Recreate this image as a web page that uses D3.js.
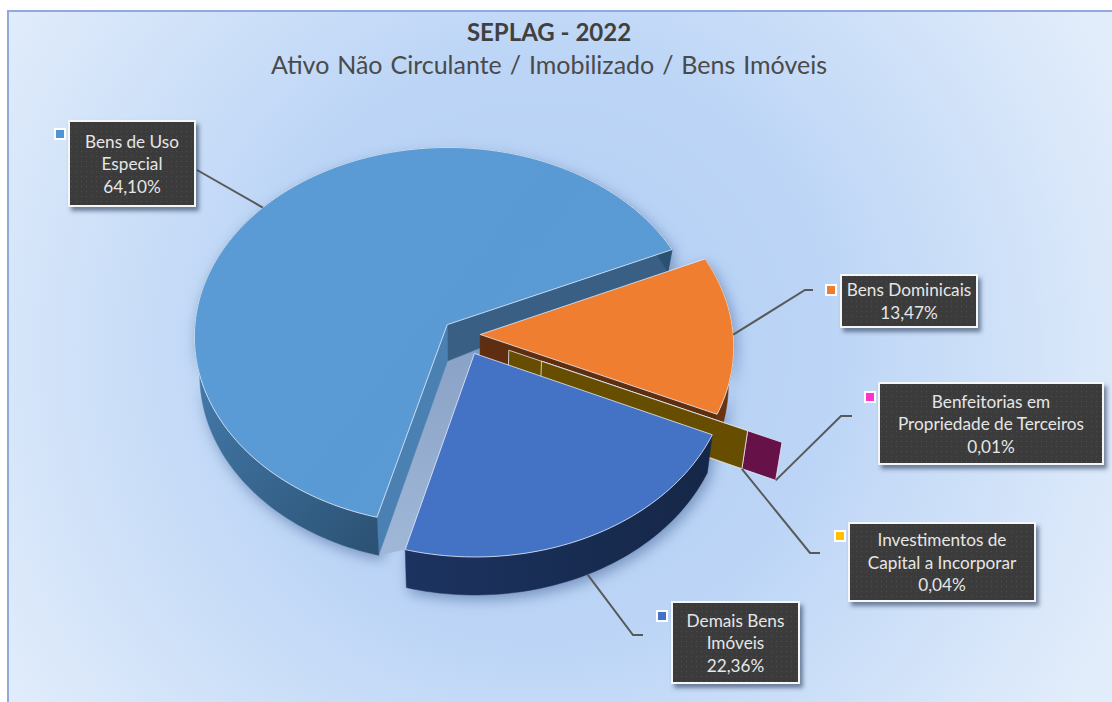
<!DOCTYPE html>
<html><head><meta charset="utf-8">
<script src="https://cdn.jsdelivr.net/npm/d3@7"></script>
<style>html,body{margin:0;padding:0;background:#fff}svg{display:block}text{font-family:Lato,"Open Sans",sans-serif}</style>
</head><body><svg id="c" width="1112" height="702"></svg>
<script>
const categories=["Bens de Uso Especial","Bens Dominicais","Benfeitorias em Propriedade de Terceiros","Investimentos de Capital a Incorporar","Demais Bens Imóveis"];
const values=[64.10,13.47,0.01,0.04,22.36];
const valueLabels=["64,10%","13,47%","0,01%","0,04%","22,36%"];
const labelLines=[["Bens de Uso","Especial"],["Bens Dominicais"],["Benfeitorias em","Propriedade de Terceiros"],["Investimentos de","Capital a Incorporar"],["Demais Bens","Imóveis"]];
const topColors=["#5b9bd5","#f07e30","#ff33cc","#ffc000","#4472c4"];
const keyColors=["#4f94d4","#ed7d31","#ff33cc","#ffc000","#4472c4"];
const wallColors=["#3a6f9f","#6a3410","#661249","#664d00","#172a4f"];
const explode=[.08,.07,.34,.2,.11];
const boxes=[[68,120,196,207],[840,274,978,328],[878,382,1104,465],[848,522,1036,602],[671,601,800,684]];
const keys=[[60,134],[831,290],[870,397],[840,536],[662,616]];
const elbows=[[[197,170]],[[805,290],[813,290]],[[841,416],[852,416]],[[810,553],[820,553]],[[633,635],[643,635]]];

const svg=d3.select("#c"),defs=svg.append("defs");
const W=1112,H=702;
const bg=defs.append("radialGradient").attr("id","bg").attr("gradientUnits","userSpaceOnUse")
 .attr("cx",540).attr("cy",350).attr("r",640);
[[0,"#b2cef5"],[.45,"#bcd5f6"],[1,"#e2edfb"]].forEach(s=>bg.append("stop").attr("offset",s[0]).attr("stop-color",s[1]));
const blur=defs.append("filter").attr("id","blur").attr("x","-20%").attr("y","-20%").attr("width","140%").attr("height","140%");
blur.append("feGaussianBlur").attr("stdDeviation",7);
const bs=defs.append("filter").attr("id","bs").attr("x","-10%").attr("y","-10%").attr("width","130%").attr("height","130%");
bs.append("feDropShadow").attr("dx",3).attr("dy",4).attr("stdDeviation",2).attr("flood-color","#2a3c5c").attr("flood-opacity",.6);
const pat=defs.append("pattern").attr("id","dots").attr("width",5).attr("height",5).attr("patternUnits","userSpaceOnUse");
pat.append("rect").attr("width",5).attr("height",5).attr("fill","#3a3a3a");
pat.append("rect").attr("x",1).attr("y",1).attr("width",1.2).attr("height",1.2).attr("fill","#4e4e4e");
function grad(id,x1,x2,a,b,y1=0,y2=0){const g=defs.append("linearGradient").attr("id",id).attr("gradientUnits","userSpaceOnUse")
 .attr("x1",x1).attr("x2",x2).attr("y1",y1).attr("y2",y2);
 g.append("stop").attr("offset",0).attr("stop-color",a);g.append("stop").attr("offset",1).attr("stop-color",b);}
grad("rim0",195,380,"#4379aa","#2b5172",380,555);
grad("rim4",405,720,"#1c3360","#152747");
grad("top0",190,670,"#5a9ad6","#5b9bd3",150,520);
grad("gap",0,0,"#8aa3c6","#a0b7d8",360,555);

svg.append("rect").attr("x",8).attr("y",11).attr("width",W+10).attr("height",H+10).attr("fill","url(#bg)").attr("stroke","#8fabdd").attr("stroke-width",2);

const cx=462.5,cy=334.5,Rx=253,Ry=189,k=.06,D=38;
const sx=d3.scaleLinear().domain([0,1]).range([0,Rx]),sy=d3.scaleLinear().domain([0,1]).range([0,Ry]);
const arcs=d3.pie().sort(null).value(d=>d).startAngle(195*Math.PI/180).endAngle((195+360)*Math.PI/180)(values);
function plane(i,r,t){const a=arcs[i],m=(a.startAngle+a.endAngle)/2,e=explode[i];
 return [e*Math.sin(m)+r*Math.sin(t),-e*Math.cos(m)-r*Math.cos(t)];}
function topP(i,r,t){const [X,Y]=plane(i,r,t),s=1/(1-k*Y);return [cx+sx(X)*s,cy+sy(Y)*s];}
function botP(i,r,t){const [X,Y]=plane(i,r,t),p=topP(i,r,t);
 return [p[0]-(p[0]-cx)*.02,p[1]+D*Math.min(1,1+.87*Y)];}
const line=d3.line();
function arcTs(a){const n=Math.max(2,Math.ceil((a.endAngle-a.startAngle)*40));return d3.range(n+1).map(j=>a.startAngle+(a.endAngle-a.startAngle)*j/n);}
function topPath(i){const a=arcs[i];return line([topP(i,0,a.startAngle),...arcTs(a).map(t=>topP(i,1,t))])+"Z";}
function rimPath(i){const ts=arcTs(arcs[i]);return line([...ts.map(t=>topP(i,1,t)),...ts.slice().reverse().map(t=>botP(i,1,t))])+"Z";}
function edgePath(i,t,r0=0,r1=1){return line([topP(i,r0,t),topP(i,r1,t),botP(i,r1,t),botP(i,r0,t)])+"Z";}

// soft shadow
const sh=svg.append("g").attr("filter","url(#blur)").attr("opacity",.55).attr("transform","translate(3,5)");
[0,1,4].forEach(i=>{const a=arcs[i];
 sh.append("path").attr("d",rimPath(i)).attr("fill","#3f5f92");
 sh.append("path").attr("d",edgePath(i,a.startAngle)).attr("fill","#3f5f92");
 sh.append("path").attr("d",edgePath(i,a.endAngle)).attr("fill","#3f5f92");
});
// shaded gap between the large slice and the lower slice
const t0=arcs[0].startAngle;
svg.append("path").attr("d",line([botP(0,0,t0),topP(4,0,t0),topP(4,1,t0),botP(0,1,t0)])+"Z").attr("fill","url(#gap)");
const edge="#e4ecf7";
function wall(g,d,fill,st){g.append("path").attr("d",d).attr("fill",fill).attr("stroke",st?edge:fill).attr("stroke-width",st?.8:.5).attr("stroke-linejoin","round");}
function face(g,i){g.append("path").attr("d",topPath(i)).attr("fill",i==0?"url(#top0)":topColors[i]).attr("stroke",edge).attr("stroke-width",.8).attr("stroke-linejoin","round");}
const pie=svg.append("g");
// Bens de Uso Especial
wall(pie,edgePath(0,arcs[0].endAngle),"#3a5f85");
wall(pie,edgePath(0,arcs[0].startAngle),"#4a80b2");
wall(pie,rimPath(0),"url(#rim0)");
face(pie,0);
// Bens Dominicais
wall(pie,rimPath(1),wallColors[1]);
wall(pie,edgePath(1,arcs[1].endAngle),"#5f2d10");
face(pie,1);
// tiny slices: pink outer wall, gold wall, split where the pink centre falls
const tp=arcs[2].startAngle,tg=arcs[3].startAngle;
wall(pie,edgePath(2,tp),wallColors[2],true);
wall(pie,edgePath(3,tg),wallColors[3],true);
wall(pie,edgePath(2,tp,0,1-(explode[2]-explode[3])),wallColors[3],true);
// Demais Bens Imóveis
wall(pie,rimPath(4),"url(#rim4)");
face(pie,4);

// leaders
const anchors=[topP(0,1,(arcs[0].startAngle+arcs[0].endAngle)/2),
 topP(1,1,(arcs[1].startAngle+arcs[1].endAngle)/2),
 botP(2,1,tp),botP(3,1,tg),botP(4,1,(arcs[4].startAngle+arcs[4].endAngle)/2)];
const lg=svg.append("g");
anchors.forEach((a,i)=>lg.append("path").attr("d",line(i==0?[elbows[0][0],a]:[a,...elbows[i]])).attr("fill","none").attr("stroke","#595959").attr("stroke-width",2));

// labels
categories.forEach((c,i)=>{
 const [x0,y0,x1,y1]=boxes[i],g=svg.append("g");
 g.append("rect").attr("x",x0+1).attr("y",y0+1).attr("width",x1-x0-2).attr("height",y1-y0-2).attr("fill","url(#dots)").attr("stroke","#f4f6f8").attr("stroke-width",2).attr("filter","url(#bs)");
 const ls=[...labelLines[i],valueLabels[i]],mid=(x0+x1)/2,yc=(y0+y1)/2;
 ls.forEach((t,j)=>g.append("text").attr("x",mid).attr("y",yc+(j-(ls.length-1)/2)*22.5+6.5).attr("text-anchor","middle").attr("font-size",17.2).attr("fill","#e6e6e6").text(t));
 const [kx,ky]=keys[i];
 g.append("rect").attr("x",kx-5).attr("y",ky-5).attr("width",10).attr("height",10).attr("fill",keyColors[i]).attr("stroke","#fff").attr("stroke-width",2);
});
// titles
svg.append("text").attr("x",549).attr("y",41).attr("text-anchor","middle").attr("font-size",24).attr("font-weight",700).attr("fill","#404040").text("SEPLAG - 2022");
svg.append("text").attr("x",549).attr("y",74).attr("text-anchor","middle").attr("font-size",25).attr("word-spacing",1.5).attr("fill","#4a4a4a").text("Ativo Não Circulante / Imobilizado / Bens Imóveis");
</script></body></html>
